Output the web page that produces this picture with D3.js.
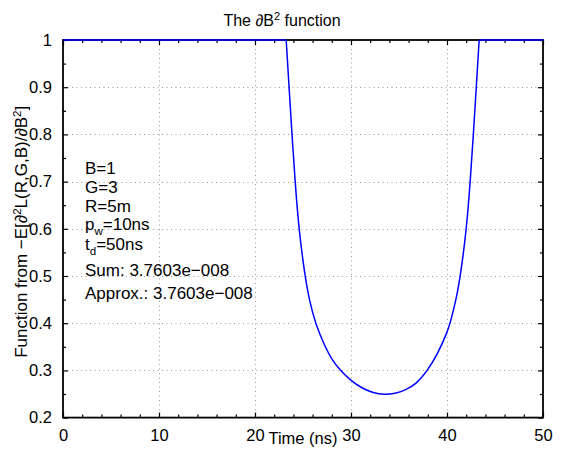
<!DOCTYPE html>
<html>
<head>
<meta charset="utf-8">
<script src="https://cdn.jsdelivr.net/npm/d3@7"></script>
<style>
  body { margin: 0; background: #fff; }
  svg { display: block; }
  text { font-family: "Liberation Sans", Arial, Helvetica, sans-serif; }
</style>
</head>
<body>
<svg id="chart" width="563" height="459"></svg>
<script>
// ---- data ----
const timeNs = [0, 23.25, 23.55, 23.85, 24.18, 24.56, 25.2, 25.65, 26.27, 27.3, 28.0, 28.8, 30.0, 31.1, 32.2, 33.5, 34.6, 35.6, 36.8, 38.0, 39.1, 40.0, 40.33, 40.95, 41.4, 42.04, 42.42, 42.75, 43.05, 43.35, 50];
const fnValue = [1, 1, 0.9, 0.8, 0.7, 0.6, 0.5, 0.45, 0.4, 0.35, 0.323, 0.302, 0.278, 0.263, 0.253, 0.248, 0.251, 0.2575, 0.271, 0.3, 0.338, 0.38, 0.4, 0.45, 0.5, 0.6, 0.7, 0.8, 0.9, 1, 1];
const xTicks = [0, 10, 20, 30, 40, 50];
const yTicks = [0.2, 0.3, 0.4, 0.5, 0.6, 0.7, 0.8, 0.9, 1];
const xMinor = [2, 4, 6, 8, 12, 14, 16, 18, 22, 24, 26, 28, 32, 34, 36, 38, 42, 44, 46, 48];
const yMinor = [0.25, 0.35, 0.45, 0.55, 0.65, 0.75, 0.85, 0.95];
const yTickLabels = ["0.2", "0.3", "0.4", "0.5", "0.6", "0.7", "0.8", "0.9", "1"];
const annotations = [
  [{t: "B=1"}],
  [{t: "G=3"}],
  [{t: "R=5m"}],
  [{t: "p"}, {t: "w", sub: true}, {t: "=10ns"}],
  [{t: "t"}, {t: "d", sub: true}, {t: "=50ns"}],
  [{t: "Sum: 3.7603e\u2212008"}],
  [{t: "Approx.: 3.7603e\u2212008"}]
];

// ---- layout ----
const L = 63, R = 543, T = 40, B = 417.6;
const FS = 16.5, FA = 17;
const svg = d3.select("#chart");
const x = d3.scaleLinear().domain([0, 50]).range([L, R]);
const y = d3.scaleLinear().domain([0.2, 1]).range([B, T]);

svg.append("defs").append("clipPath").attr("id", "clip")
  .append("rect").attr("x", L).attr("y", T - 1).attr("width", R - L).attr("height", B - T + 1);

// grid
const grid = svg.append("g").attr("stroke", "#9a9a9a").attr("stroke-width", 1).attr("stroke-dasharray", "1,3.5");
grid.selectAll(".gx").data(xTicks.filter(d => d > 0 && d < 50)).enter().append("line")
  .attr("x1", d => Math.round(x(d)) + 0.5).attr("x2", d => Math.round(x(d)) + 0.5)
  .attr("y1", T).attr("y2", B);
grid.selectAll(".gy").data(yTicks.filter(d => d > 0.2 && d < 1)).enter().append("line")
  .attr("y1", d => Math.round(y(d)) + 0.5).attr("y2", d => Math.round(y(d)) + 0.5)
  .attr("x1", L).attr("x2", R);

function styleAxis(g) {
  g.select(".domain").remove();
  g.selectAll("line").attr("stroke", "#000").attr("stroke-width", 1.2);
  g.selectAll("text").attr("font-size", FS).attr("fill", "#000");
}
const majLen = 5, minLen = 3;
svg.append("g").attr("transform", `translate(0,${B})`)
  .call(d3.axisBottom(x).tickValues(xTicks).tickSize(-majLen).tickPadding(majLen + 7).tickFormat(d3.format("d")))
  .call(styleAxis);
svg.append("g").attr("transform", `translate(0,${B})`)
  .call(d3.axisBottom(x).tickValues(xMinor).tickSize(-minLen).tickFormat(""))
  .call(styleAxis);
svg.append("g").attr("transform", `translate(0,${T})`)
  .call(d3.axisTop(x).tickValues(xTicks).tickSize(-majLen).tickFormat(""))
  .call(styleAxis);
svg.append("g").attr("transform", `translate(0,${T})`)
  .call(d3.axisTop(x).tickValues(xMinor).tickSize(-minLen).tickFormat(""))
  .call(styleAxis);
svg.append("g").attr("transform", `translate(${L},0)`)
  .call(d3.axisLeft(y).tickValues(yTicks).tickSize(-majLen).tickPadding(majLen + 6).tickFormat((d, i) => yTickLabels[i]))
  .call(styleAxis);
svg.append("g").attr("transform", `translate(${L},0)`)
  .call(d3.axisLeft(y).tickValues(yMinor).tickSize(-minLen).tickFormat(""))
  .call(styleAxis);
svg.append("g").attr("transform", `translate(${R},0)`)
  .call(d3.axisRight(y).tickValues(yTicks).tickSize(-majLen).tickFormat(""))
  .call(styleAxis);
svg.append("g").attr("transform", `translate(${R},0)`)
  .call(d3.axisRight(y).tickValues(yMinor).tickSize(-minLen).tickFormat(""))
  .call(styleAxis);

svg.append("rect").attr("x", L).attr("y", T).attr("width", R - L).attr("height", B - T)
  .attr("fill", "none").attr("stroke", "#000").attr("stroke-width", 1.8);

// curve: flat (clipped) parts drawn straight, dip drawn as a smooth B-spline
const pts = timeNs.map((t, i) => [t, fnValue[i]]);
const last = pts.length - 1;
const segs = [
  {p: pts.slice(0, 2), c: d3.curveLinear},
  {p: pts.slice(1, last), c: d3.curveBasis},
  {p: pts.slice(last - 1), c: d3.curveLinear}
];
segs.forEach(s => {
  svg.append("path").datum(s.p)
    .attr("clip-path", "url(#clip)")
    .attr("fill", "none").attr("stroke", "#0000ff").attr("stroke-width", 1.5)
    .attr("stroke-linejoin", "round")
    .attr("d", d3.line().x(d => x(d[0])).y(d => y(d[1])).curve(s.c));
});

// title
const title = svg.append("text").attr("x", 282).attr("y", 25.5).attr("text-anchor", "middle").attr("font-size", 16);
title.append("tspan").text("The \u2202B");
title.append("tspan").attr("font-size", 11).attr("dy", -6).text("2");
title.append("tspan").attr("dy", 6).text(" function");

// x label
svg.append("text").attr("x", (L + R) / 2).attr("y", 444).attr("text-anchor", "middle").attr("font-size", FS).text("Time (ns)");

// y label
const yl = svg.append("text").attr("transform", `translate(27,${(T + B) / 2 + 3}) rotate(-90)`)
  .attr("text-anchor", "middle").attr("font-size", FA);
yl.append("tspan").text("Function from \u2212E[\u2202");
yl.append("tspan").attr("font-size", 11.5).attr("dy", -6).text("2");
yl.append("tspan").attr("dy", 6).text("L(R,G,B)/\u2202B");
yl.append("tspan").attr("font-size", 11.5).attr("dy", -6).text("2");
yl.append("tspan").attr("dy", 6).text("]");

// annotations
const baselines = [174, 192.5, 211.5, 229.5, 250, 276, 299];
annotations.forEach((parts, i) => {
  const tx = svg.append("text").attr("x", 85).attr("y", baselines[i]).attr("font-size", FA);
  let shifted = false;
  parts.forEach(p => {
    const s = tx.append("tspan").text(p.t);
    if (p.sub) { s.attr("font-size", 11.5).attr("dy", 5); shifted = true; }
    else if (shifted) { s.attr("dy", -5); shifted = false; }
  });
});
</script>
</body>
</html>
